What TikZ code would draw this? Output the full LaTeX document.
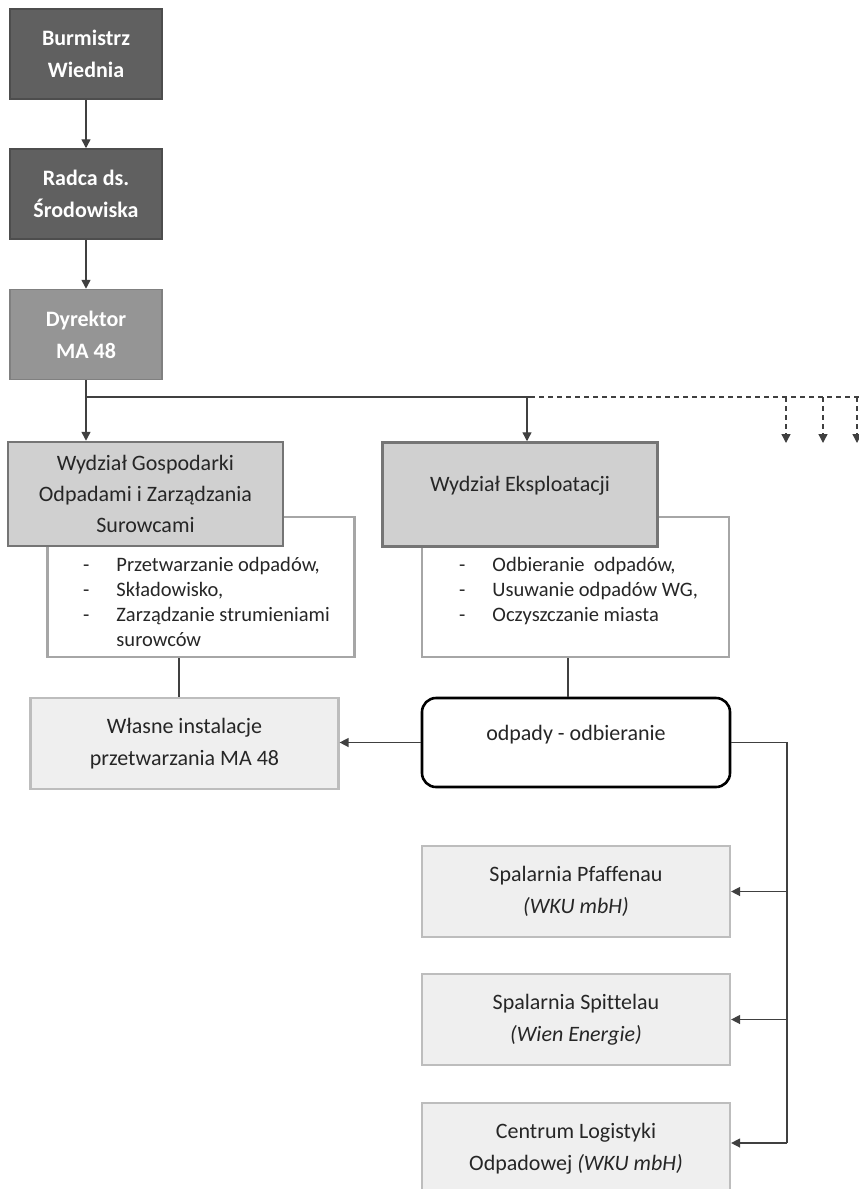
\documentclass[tikz,border=0pt]{standalone}
\usepackage{fontspec}
\setmainfont{Carlito}[Ligatures=NoCommon]
\usetikzlibrary{positioning,calc,arrows.meta}

\definecolor{chieffill}{HTML}{606060}
\definecolor{chiefline}{HTML}{4D4D4D}
\definecolor{dirfill}{HTML}{959595}
\definecolor{dirline}{HTML}{808080}
\definecolor{deptfill}{HTML}{D0D0D0}
\definecolor{deptline}{HTML}{757575}
\definecolor{taskline}{HTML}{A6A6A6}
\definecolor{unitfill}{HTML}{EFEFEF}
\definecolor{unitline}{HTML}{BDBDBD}
\definecolor{conn}{HTML}{404040}

\begin{document}
\begin{tikzpicture}
        [x=1pt,y=-1pt,
        every node/.style={font=\fontsize{22}{31}\selectfont,align=center,inner sep=0pt,text=black!85},
        chief/.style={fill=chieffill,draw=chiefline,line width=1.5pt,minimum width=152pt,minimum height=90pt,
                      text=white,font=\fontsize{22}{32}\selectfont\bfseries},
        director/.style={chief,fill=dirfill,draw=dirline},
        dept/.style={fill=deptfill,draw=deptline,line width=2.5pt,minimum width=275pt,minimum height=104pt},
        tasks/.style={fill=white,draw=taskline,line width=2.2pt,minimum width=307pt,minimum height=140pt},
        tasklist/.style={anchor=base west,font=\fontsize{20.5}{25}\selectfont},
        unit/.style={fill=unitfill,draw=unitline,line width=2.2pt,minimum width=308pt,minimum height=91pt,
                     font=\fontsize{22}{32}\selectfont},
        collect/.style={draw=black,line width=2.6pt,rounded corners=14pt,minimum width=308pt,minimum height=89pt},
        line/.style={draw=conn,line width=1.4pt},
        arr/.style={line,-{Triangle[length=9pt,width=9pt]}},
        future/.style={arr,dash pattern=on 5pt off 4pt}]
        \useasboundingbox (0,0) rectangle (859,1189);

        % management
        \node[chief] (burm) at (86,54) {Burmistrz\\Wiednia};
        \node[chief] (radca) at (86,194) {Radca ds.\\Środowiska};
        \node[director] (dyr) at (86,334.5) {Dyrektor\\MA 48};
        \draw[arr] (burm) -- (radca);
        \draw[arr] (radca) -- (dyr);

        % departments
        \node[tasks] (wgosub) at (201,587) {};
        \node[dept] (wgo) at (145.5,494) {Wydział Gospodarki\\Odpadami i Zarządzania\\Surowcami};
        \node[tasks] (weksub) at (575.5,587) {};
        \node[dept] (wek) at (520,494.5) {};
        \node[yshift=9pt] (wektext) at (wek.center) {Wydział Eksploatacji};
        \node[tasklist] (wgolist) at (83,571)
            {\begin{tabular}[t]{@{}l@{\hspace{27pt}}l@{}}
             - & Przetwarzanie odpadów,\\
             - & Składowisko,\\
             - & Zarządzanie strumieniami\\
               & surowców
             \end{tabular}};
        \node[tasklist] (weklist) at (459,571)
            {\begin{tabular}[t]{@{}l@{\hspace{27pt}}l@{}}
             - & Odbieranie\ \ odpadów,\\
             - & Usuwanie odpadów WG,\\
             - & Oczyszczanie miasta
             \end{tabular}};

        % bus from the director
        \coordinate (bus) at (86,397);
        \coordinate (busek) at (527,397);
        \coordinate (busend) at (530,397);
        \draw[arr] (dyr.south) -- (dyr.south |- wgo.north);
        \draw[line] (bus) -- (busend);
        \draw[line,dash pattern=on 5pt off 4pt] (busend) -- (859,397);
        \draw[arr] (busek) -- (busek |- wek.north);
        \foreach \xpos in {786,823,857}
            \draw[future] (\xpos,397) -- (\xpos,443);

        % collection and treatment
        \node[unit] (wlasne) at (184.5,743.5) {Własne instalacje\\przetwarzania MA 48};
        \node[collect] (odb) at (576,742.5) {};
        \node[yshift=8pt] (odbtext) at (odb.center) {odpady - odbieranie};
        \node[unit] (pfaf) at (576,891.5) {Spalarnia Pfaffenau\\\textit{(WKU mbH)}};
        \node[unit] (spit) at (576,1019.5) {Spalarnia Spittelau\\\textit{(Wien Energie)}};
        \node[unit] (clog) at (576,1148.5) {Centrum Logistyki\\Odpadowej \textit{(WKU mbH)}};

        \draw[line] ([xshift=-22pt]wgosub.south) -- ([xshift=-22pt]wgosub.south |- wlasne.north);
        \draw[line] ([xshift=-7.5pt]weksub.south) -- ([xshift=-7.5pt]weksub.south |- odb.north);
        \draw[arr] (odb.west) -- (odb.west -| wlasne.east);

        \coordinate (tap) at (787,1143);
        \draw[line] (odb.east) -| (tap);
        \draw[arr] (tap |- pfaf.east) -- (pfaf.east);
        \draw[arr] (tap |- spit.east) -- (spit.east);
        \draw[arr] (tap) -- (tap -| clog.east);
\end{tikzpicture}
\end{document}
